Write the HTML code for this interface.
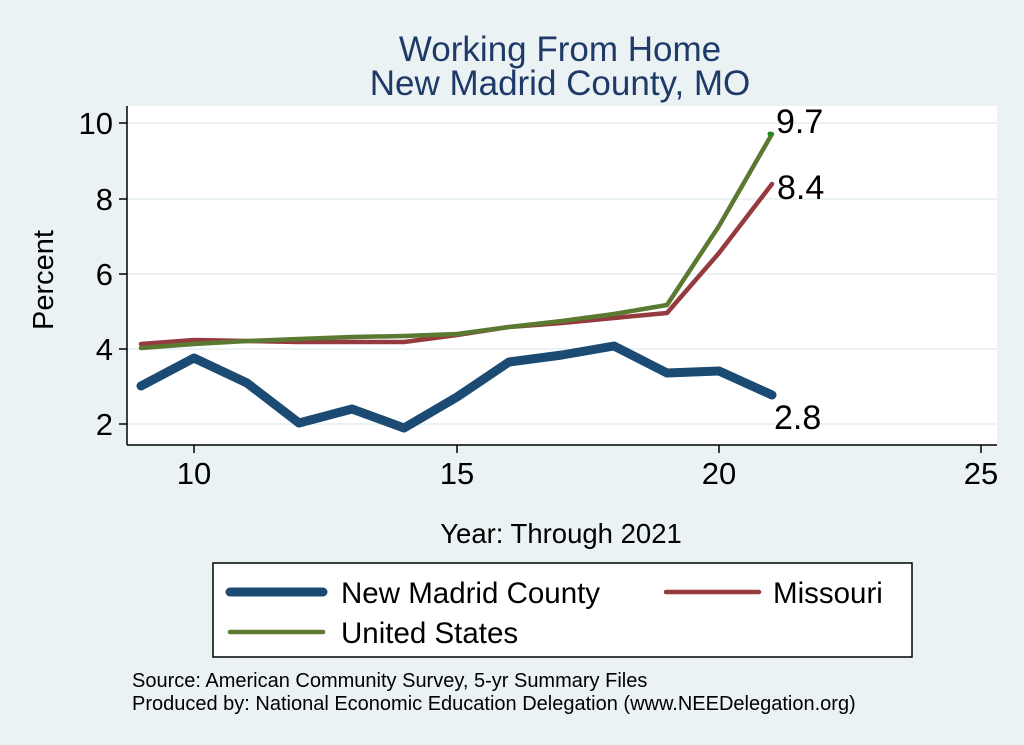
<!DOCTYPE html>
<html><head><meta charset="utf-8"><style>
html,body{margin:0;padding:0;background:#EAF2F3;}
svg{display:block;font-family:"Liberation Sans",sans-serif;}
</style></head><body>
<svg width="1024" height="745" viewBox="0 0 1024 745">
<rect x="0" y="0" width="1024" height="745" fill="#EAF2F3"/>
<text x="560" y="61" text-anchor="middle" font-size="35" fill="#1F3A68">Working From Home</text>
<text x="560" y="95" text-anchor="middle" font-size="35" fill="#1F3A68">New Madrid County, MO</text>
<rect x="127" y="106" width="870" height="339" fill="#fff"/>
<g stroke="#EAF2F3" stroke-width="2">
<line x1="127" x2="997" y1="123" y2="123"/><line x1="127" x2="997" y1="199" y2="199"/>
<line x1="127" x2="997" y1="274" y2="274"/><line x1="127" x2="997" y1="349" y2="349"/>
<line x1="127" x2="997" y1="424" y2="424"/>
</g>
<g stroke="#000" stroke-width="1.5">
<line x1="127" y1="106" x2="127" y2="445"/><line x1="127" y1="445" x2="997" y2="445"/>
<line x1="119" x2="127" y1="123" y2="123"/><line x1="119" x2="127" y1="199" y2="199"/>
<line x1="119" x2="127" y1="274" y2="274"/><line x1="119" x2="127" y1="349" y2="349"/>
<line x1="119" x2="127" y1="424" y2="424"/>
<line x1="194" x2="194" y1="445" y2="453"/><line x1="457" x2="457" y1="445" y2="453"/>
<line x1="719" x2="719" y1="445" y2="453"/><line x1="981" x2="981" y1="445" y2="453"/>
</g>
<g font-size="31" text-anchor="end">
<text x="113" y="134">10</text><text x="113" y="210">8</text><text x="113" y="285">6</text>
<text x="113" y="360">4</text><text x="113" y="435">2</text>
</g>
<g font-size="31" text-anchor="middle">
<text x="194" y="484">10</text><text x="457" y="484">15</text><text x="719" y="484">20</text><text x="981" y="484">25</text>
</g>
<text x="53" y="280" font-size="29" text-anchor="middle" transform="rotate(-90 53 280)">Percent</text>
<text x="561" y="543" font-size="27.5" text-anchor="middle">Year: Through 2021</text>
<g fill="none" stroke-linejoin="round" stroke-linecap="round">
<polyline stroke="#1B4A73" stroke-width="9" points="141,386 194,358 247,383 299,423 352,409 404,428 457,397 509,362 562,355 614,346 667,373 719,371 772,395"/>
<polyline stroke="#953A3E" stroke-width="4.5" points="141,344 194,340 247,341 299,342 352,342 404,342 457,335 509,327 562,323 614,318 667,313 719,253 772,184"/>
<polyline stroke="#5A7A31" stroke-width="4.5" points="141,348 194,344 247,341 299,339 352,337 404,336 457,334 509,327 562,321 614,314 667,305 719,226 772,134"/>
</g>
<circle cx="770" cy="134" r="2.5" fill="#1a8a1a"/>
<g font-size="34">
<text x="776" y="133">9.7</text><text x="777" y="199">8.4</text><text x="774" y="429">2.8</text>
</g>
<rect x="213" y="563" width="699" height="94" fill="#fff" stroke="#000" stroke-width="1.5"/>
<line x1="230" x2="323" y1="592" y2="592" stroke="#1B4A73" stroke-width="9" stroke-linecap="round"/>
<line x1="666" x2="759" y1="592" y2="592" stroke="#953A3E" stroke-width="4.5" stroke-linecap="round"/>
<line x1="230" x2="323" y1="632" y2="632" stroke="#5A7A31" stroke-width="4.5" stroke-linecap="round"/>
<g font-size="29.5">
<text x="341" y="603">New Madrid County</text><text x="773" y="603">Missouri</text><text x="341" y="643">United States</text>
</g>
<g font-size="20">
<text x="132" y="687">Source: American Community Survey, 5-yr Summary Files</text>
<text x="132" y="710">Produced by: National Economic Education Delegation (www.NEEDelegation.org)</text>
</g>
</svg>
</body></html>
